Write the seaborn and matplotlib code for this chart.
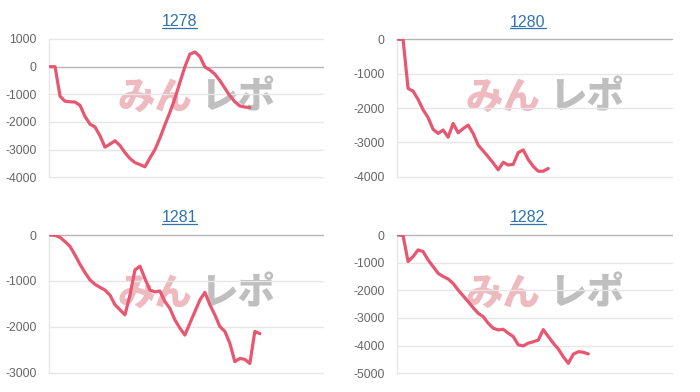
import numpy as np
import pandas as pd
import matplotlib
matplotlib.use("Agg")
import matplotlib.pyplot as plt
import seaborn as sns
from matplotlib.lines import Line2D

# ---- data ----
titles = ["1278", "1280", "1281", "1282"]

vals_1278 = [0, 0, -1070, -1250, -1270, -1280, -1400, -1800, -2080, -2180,
             -2500, -2910, -2800, -2680, -2850, -3110, -3320, -3470, -3540, -3620,
             -3300, -3000, -2580, -2100, -1650, -1150, -570, 0, 450, 530,
             370, -10, -120, -270, -500, -780, -1050, -1270, -1420, -1460, -1480]

vals_1280 = [0, 0, -1430, -1510, -1750, -2050, -2280, -2620, -2740, -2640,
             -2850, -2450, -2720, -2600, -2500, -2740, -3080, -3250, -3420, -3600,
             -3800, -3580, -3660, -3640, -3300, -3220, -3500, -3700, -3840, -3840,
             -3760]

vals_1281 = [0, -10, -50, -145, -250, -435, -640, -820, -980, -1075,
             -1140, -1200, -1310, -1520, -1630, -1740, -1310, -760, -680, -950,
             -1200, -1240, -1220, -1450, -1600, -1850, -2030, -2180, -1920, -1670,
             -1415, -1250, -1520, -1740, -1995, -2100, -2360, -2760, -2690, -2710,
             -2800, -2100, -2150]

vals_1282 = [0, -20, -960, -780, -540, -600, -900, -1140, -1385, -1500,
             -1590, -1750, -1990, -2200, -2410, -2630, -2830, -2950, -3190, -3370,
             -3430, -3410, -3550, -3670, -3970, -4010, -3910, -3860, -3800, -3420,
             -3670, -3910, -4120, -4400, -4640, -4310, -4220, -4240, -4300]

series = [vals_1278, vals_1280, vals_1281, vals_1282]
y_ticks = [
    [1000, 0, -1000, -2000, -3000, -4000],
    [0, -1000, -2000, -3000, -4000],
    [0, -1000, -2000, -3000],
    [0, -1000, -2000, -3000, -4000, -5000],
]

# ---- style ----
sns.set_theme(style="white")
plt.rcParams["font.family"] = ["Liberation Sans", "Noto Sans CJK JP", "DejaVu Sans"]

LINE_COLOR = "#e8566f"
GRID_COLOR = "#e6e6e6"
ZERO_COLOR = "#b5b5b5"
TICK_COLOR = "#666666"
TITLE_COLOR = "#2f72b3"

fig = plt.figure(figsize=(7.0, 3.92), dpi=100)

W, H = 700.0, 392.0
# axes boxes in pixels: left, top, right, bottom
boxes = [
    (49.3, 39.0, 323.0, 177.3),
    (397.3, 39.3, 671.7, 176.7),
    (49.3, 235.0, 323.0, 372.7),
    (397.3, 235.0, 671.7, 373.3),
]

axes = []
for (l, t, r, b), title, vals, ticks in zip(boxes, titles, series, y_ticks):
    ax = fig.add_axes([l / W, 1 - b / H, (r - l) / W, (b - t) / H])
    axes.append(ax)
    df = pd.DataFrame({"x": np.arange(len(vals)), "y": vals})

    # watermark
    ax.text(0.385, 0.575, "みん", transform=ax.transAxes, ha="center", va="center",
            fontsize=27, fontweight="heavy", color="#edb2b8", alpha=0.9,
            family=["Noto Sans CJK JP"], zorder=0)
    ax.text(0.69, 0.575, "レポ", transform=ax.transAxes, ha="center", va="center",
            fontsize=27, fontweight="heavy", color="#b8b8b8", alpha=0.9,
            family=["Noto Sans CJK JP"], zorder=0)

    sns.lineplot(data=df, x="x", y="y", ax=ax, color=LINE_COLOR, linewidth=2.3,
                 zorder=5, legend=False)

    ax.set_xlim(-0.15, 54.65)
    ax.set_ylim(min(ticks), max(ticks))
    ax.set_yticks(ticks)
    ax.set_yticklabels([str(v) for v in ticks])
    ax.set_xticks([])
    ax.set_xlabel("")
    ax.set_ylabel("")

    for v in ticks:
        ax.axhline(v, color=ZERO_COLOR if v == 0 else GRID_COLOR,
                   linewidth=1.0, zorder=1, clip_on=False)

    for side in ["top", "right", "bottom"]:
        ax.spines[side].set_visible(False)
    ax.spines["left"].set_color(GRID_COLOR)
    ax.spines["left"].set_linewidth(1.0)

    ax.tick_params(axis="y", length=7, width=1.0, color=GRID_COLOR,
                   labelsize=8.8, labelcolor=TICK_COLOR, pad=2)

    ax.set_title(title, color=TITLE_COLOR, fontsize=11.5, pad=9, x=0.476)

# underline titles
fig.canvas.draw()
renderer = fig.canvas.get_renderer()
for ax in axes:
    bb = ax.title.get_window_extent(renderer)
    y = bb.y0 + 1.5
    fig.add_artist(Line2D([bb.x0 / W, bb.x1 / W], [y / H, y / H],
                          transform=fig.transFigure, color=TITLE_COLOR, linewidth=0.9))

fig.savefig("out.png", dpi=100, facecolor="white")
